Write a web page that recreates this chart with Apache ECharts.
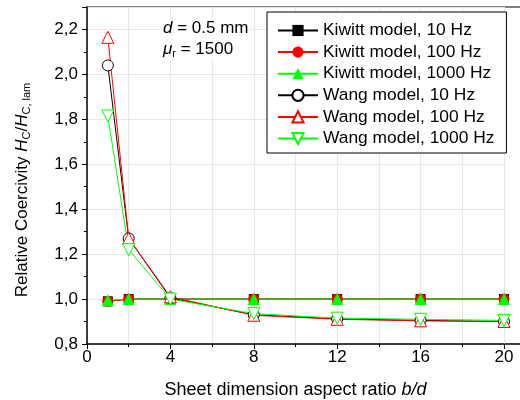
<!DOCTYPE html>
<html><head><meta charset="utf-8">
<script src="https://cdn.jsdelivr.net/npm/echarts@6/dist/echarts.min.js"></script>
<style>html,body{margin:0;padding:0;background:#fff}#c{width:520px;height:400px}</style>
</head><body><div id="c"></div>
<script>
const aspectRatio = [1, 2, 4, 8, 12, 16, 20];
const kiwitt10 = [0.99, 1.0, 1.0, 1.0, 1.0, 1.0, 1.0];
const kiwitt100 = [0.99, 1.0, 1.0, 1.0, 1.0, 1.0, 1.0];
const kiwitt1000 = [0.995, 1.0, 1.0, 1.0, 1.0, 1.0, 1.0];
const wang10 = [2.04, 1.27, 1.005, 0.93, 0.912, 0.905, 0.90];
const wang100 = [2.165, 1.27, 1.01, 0.928, 0.91, 0.903, 0.90];
const wang1000 = [1.815, 1.22, 1.0, 0.935, 0.915, 0.91, 0.905];
const seriesNames = ['Kiwitt model, 10 Hz','Kiwitt model, 100 Hz','Kiwitt model, 1000 Hz','Wang model, 10 Hz','Wang model, 100 Hz','Wang model, 1000 Hz'];

const FONT = 'Liberation Sans, Arial, sans-serif';
const pairs = v => aspectRatio.map((x, i) => [x, v[i]]);

function mk(name, data, color, symbol, size, open, rotate) {
  return {
    name, type: 'line', data: pairs(data),
    symbol, symbolSize: size, symbolRotate: rotate || 0,
    lineStyle: {color, width: 1},
    itemStyle: open ? {color: '#fff', borderColor: color, borderWidth: 1} : {color, borderColor: color, borderWidth: 0},
    emphasis: {disabled: true}, animation: false
  };
}

const richText = {
  n: {fontSize: 17, fontFamily: FONT, fill: '#000', lineHeight: 20, verticalAlign: 'middle'},
  i: {fontSize: 17, fontFamily: FONT, fontStyle: 'italic', fill: '#000', lineHeight: 20, verticalAlign: 'middle'},
  s: {fontSize: 11, fontFamily: FONT, fill: '#000', lineHeight: 11, verticalAlign: 'bottom'}
};

const chart = echarts.init(document.getElementById('c'), null, {renderer: 'canvas'});
const axisLabelStyle = {color: '#000', fontSize: 17, fontFamily: FONT};
chart.setOption({
  backgroundColor: '#fff',
  animation: false,
  grid: {left: 87, right: 16, top: 7, bottom: 56, outerBoundsMode: 'none', containLabel: false},
  xAxis: {
    type: 'value', min: 0, max: 20, interval: 4,
    name: '{n|Sheet dimension aspect ratio }{i|b/d}',
    nameLocation: 'middle', nameGap: 37,
    nameTextStyle: {rich: {n: {fontSize: 18, fontFamily: FONT, color: '#000'}, i: {fontSize: 18, fontFamily: FONT, fontStyle: 'italic', color: '#000'}}},
    axisLine: {lineStyle: {color: '#000', width: 1.5}},
    axisTick: {length: 5, lineStyle: {color: '#000'}},
    minorTick: {show: true, splitNumber: 2, length: 3, lineStyle: {color: '#000'}},
    splitLine: {show: true, lineStyle: {color: '#e6e6e6', width: 1}},
    minorSplitLine: {show: true, lineStyle: {color: '#e6e6e6', width: 1}},
    axisLabel: Object.assign({margin: 5, formatter: v => String(v)}, axisLabelStyle)
  },
  yAxis: {
    type: 'value', min: 0.8, max: 2.3, interval: 0.2,
    axisLine: {show: true, lineStyle: {color: '#000', width: 1.5}},
    axisTick: {show: true, length: 5, lineStyle: {color: '#000'}},
    minorTick: {show: true, splitNumber: 2, length: 3, lineStyle: {color: '#000'}},
    splitLine: {show: true, lineStyle: {color: '#e6e6e6', width: 1}},
    axisLabel: Object.assign({margin: 9, showMaxLabel: false, formatter: v => v.toFixed(1).replace('.', ',')}, axisLabelStyle)
  },
  legend: {
    orient: 'vertical', left: 267, top: 12,
    padding: [10, 12, 6, 10],
    itemWidth: 40, itemHeight: 14, itemGap: 4.6, itemTextGap: 6,
    borderColor: '#000', borderWidth: 1, backgroundColor: '#fff',
    textStyle: {fontSize: 17.4, fontFamily: FONT, color: '#000'},
    data: seriesNames
  },
  series: [
    mk(seriesNames[0], kiwitt10, '#000000', 'rect', 10, false),
    mk(seriesNames[1], kiwitt100, '#ff0000', 'circle', 11, false),
    mk(seriesNames[2], kiwitt1000, '#00ff00', 'triangle', 12, false),
    mk(seriesNames[3], wang10, '#000000', 'circle', 11, true),
    mk(seriesNames[4], wang100, '#ff0000', 'triangle', 12, true),
    mk(seriesNames[5], wang1000, '#00ff00', 'triangle', 12, true, 180)
  ],
  graphic: [
    {type: 'line', shape: {x1: 87, y1: 7, x2: 520, y2: 7}, style: {stroke: '#555', lineWidth: 1.5}, silent: true},
    {type: 'line', shape: {x1: 504, y1: 344, x2: 520, y2: 344}, style: {stroke: '#000', lineWidth: 1.5}, silent: true},
    {type: 'text', x: 22, y: 190, rotation: Math.PI / 2, silent: true,
      style: {text: '{n|Relative Coercivity }{i|H}{s|C}{n|/}{i|H}{s|C, lam}', align: 'center', verticalAlign: 'middle', rich: richText}},
    {type: 'text', x: 162, y: 28, silent: true, z: 10,
      style: {text: '{i|d}{n| = 0.5 mm}', verticalAlign: 'middle', align: 'left', rich: richText, backgroundColor: '#fff', padding: [0, 1, 0, 1]}},
    {type: 'text', x: 162, y: 49, silent: true, z: 10,
      style: {text: '{i|μ}{s|r}{n| = 1500}', verticalAlign: 'middle', align: 'left', rich: richText, backgroundColor: '#fff', padding: [0, 1, 0, 1]}}
  ]
});
</script></body></html>
